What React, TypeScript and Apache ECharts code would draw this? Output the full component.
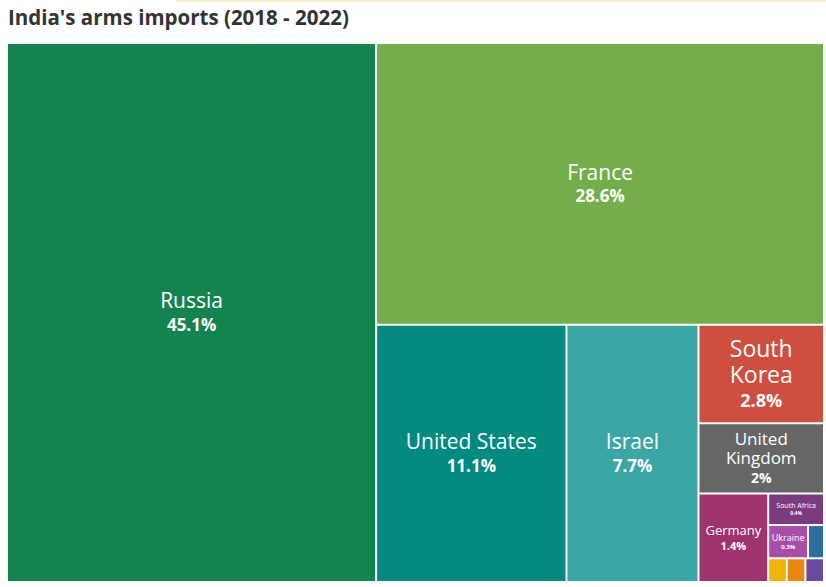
import React, { useEffect, useRef } from "react";
import * as echarts from "echarts";

const TITLE = "India's arms imports (2018 - 2022)";
const countries = [
  "Russia", "France", "United States", "Israel", "South Korea", "United Kingdom",
  "Germany", "South Africa", "Ukraine", "Canada", "Italy", "Netherlands", "Switzerland",
];
const shares = [45.1, 28.6, 11.1, 7.7, 2.8, 2, 1.4, 0.4, 0.3, 0.12, 0.1, 0.1, 0.1];

const colors = [
  "#13834f", "#74ae4a", "#008a80", "#3aa6a6", "#d04e3e", "#666666",
  "#9e3370", "#7b3b7e", "#a84ea8", "#2a6f9f", "#6a4aa0", "#e8880f", "#f0b400",
];
const nameSizes = [21, 21, 21, 21, 23, 17, 13, 7, 9, 6, 6, 6, 6];
const valSizes = [17, 17, 17, 17, 18, 14, 11, 5, 6, 5, 5, 5, 5];
const FONT = "Open Sans";

function wrapName(name: string, size: number, maxW: number): string[] {
  const cv = document.createElement("canvas");
  const ctx = cv.getContext("2d")!;
  ctx.font = `${size}px "${FONT}"`;
  const words = name.split(" ");
  const lines: string[] = [];
  let cur = "";
  for (const w of words) {
    const t = cur ? cur + " " + w : w;
    if (cur && ctx.measureText(t).width > maxW) {
      lines.push(cur);
      cur = w;
    } else cur = t;
  }
  if (cur) lines.push(cur);
  return lines;
}

export default function App() {
  const ref = useRef<HTMLDivElement>(null);
  useEffect(() => {
    if (!ref.current) return;
    const chart = echarts.init(ref.current, undefined, { renderer: "svg" });

    const build = (layouts: Record<string, any> | null) => {
      const wrapped: Record<string, string[]> = {};
      const data = countries.map((c, i) => {
        const ns = nameSizes[i];
        const vs = valSizes[i];
        const nLH = ns * 1.15;
        const vLH = vs * 1.45;
        const lay = layouts ? layouts[c] : null;
        let lines = [c];
        let padTop = 5;
        if (lay) {
          lines = wrapName(c, ns, lay.width - 4);
          const ch = lines.length * nLH + vLH;
          padTop = Math.max(0, lay.height - ch - 8);
        }
        wrapped[c] = lines;
        return {
          name: c,
          value: shares[i],
          itemStyle: { color: colors[i] },
          label: {
            show: shares[i] >= 0.2 && !!layouts,
            padding: [padTop / 2 + 4, 1, padTop / 2, 1],
            rich: {
              n: { fontSize: ns, color: "#fff", fontFamily: FONT, lineHeight: nLH, align: "center" },
              v: { fontSize: vs, color: "#fff", fontWeight: "bold", fontFamily: FONT, lineHeight: vLH, align: "center" },
            },
          },
        };
      });
      return {
        animation: false,
        title: {
          text: TITLE,
          left: 3,
          top: 1,
          textStyle: { fontFamily: FONT, fontSize: 20.5, fontWeight: "bold", color: "#333" },
        },
        graphic: [
          { type: "rect", left: 176, top: 0, shape: { width: 650, height: 2 }, style: { fill: "#fcf1cf" } },
        ],
        series: [
          {
            type: "treemap",
            left: 8,
            top: 44,
            right: 3,
            bottom: 6,
            squareRatio: 1,
            roam: false,
            nodeClick: false,
            breadcrumb: { show: false },
            sort: "desc",
            label: {
              show: true,
              position: "inside",
              align: "center",
              verticalAlign: "middle",
              formatter: (p: any) =>
                (wrapped[p.name] || [p.name]).map((l) => `{n|${l}}`).join("\n") + `\n{v|${p.value}%}`,
            },
            upperLabel: { show: false },
            levels: [{ itemStyle: { borderWidth: 0, gapWidth: 2, borderColor: "#fff" } }],
            data,
          },
        ],
      };
    };

    chart.setOption(build(null) as any);
    const layouts: Record<string, any> = {};
    try {
      const s = (chart as any).getModel().getSeriesByIndex(0);
      const d = s.getData();
      for (let i = 0; i < d.count(); i++) {
        const l = d.getItemLayout(i);
        if (l) layouts[d.getName(i)] = l;
      }
    } catch (e) {}
    chart.setOption(build(layouts) as any);
    return () => chart.dispose();
  }, []);
  return (
    <div
      ref={ref}
      style={{ position: "fixed", left: 0, top: 0, width: 826, height: 587, background: "#fff" }}
    />
  );
}
